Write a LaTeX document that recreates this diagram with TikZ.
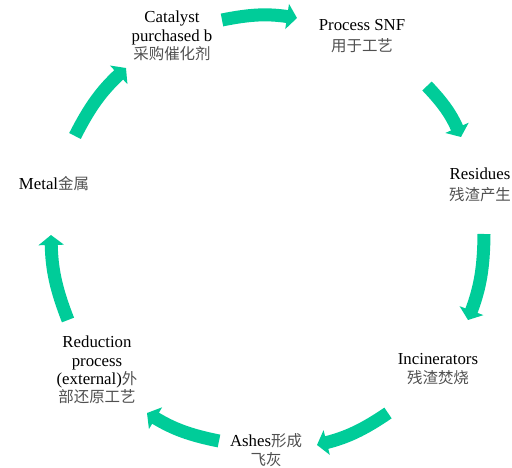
\documentclass[tikz,border=0pt]{standalone}
\usepackage{fontspec}
\setmainfont{Liberation Serif}
\newfontfamily\cjk[Scale=0.92]{Noto Sans CJK SC}
\usetikzlibrary{arrows.meta}

\definecolor{cyclegreen}{RGB}{0,204,153}
\definecolor{zhgray}{RGB}{80,80,80}
\newcommand{\zh}[1]{{\cjk\color{zhgray}#1}}

\begin{document}
\begin{tikzpicture}[x=1pt, y=-1pt,
    stage/.style={align=center, inner sep=0pt, font=\fontsize{16.8}{18.3}\selectfont},
    flow/.style={draw=cyclegreen, line width=13pt, -{Triangle[width=25pt,length=10pt]}}]
    \useasboundingbox (0,0) rectangle (512,468);

    % The seven stages round the cycle
    \node[stage] (cat) at (172,36) {Catalyst\\purchased b\\\zh{采购催化剂}};
    \node[stage] (snf) at (362,36) {Process SNF\\[3pt]\zh{用于工艺}};
    \node[stage] (res) at (480,185) {Residues\\[3pt]\zh{残渣产生}};
    \node[stage] (inc) at (438,369) {Incinerators\\\zh{残渣焚烧}};
    \node[stage] (ash) at (266,450) {Ashes\zh{形成}\\\zh{飞灰}};
    \node[stage] (red) at (97,370) {Reduction\\process\\(external)\zh{外}\\\zh{部还原工艺}};
    \node[stage] (met) at (54,184) {Metal\zh{金属}};

    % Ends of the arrows between the stages
    \coordinate (cat-out) at (222,20);
    \coordinate (snf-in) at (297,18);
    \coordinate (snf-out) at (427,86);
    \coordinate (res-in) at (461,137);
    \coordinate (res-out) at (484,234);
    \coordinate (inc-in) at (468,320);
    \coordinate (inc-out) at (388,413);
    \coordinate (ash-in) at (317,445);
    \coordinate (ash-out) at (219,441);
    \coordinate (red-in) at (147,413);
    \coordinate (red-out) at (68,320);
    \coordinate (met-in) at (51,235);
    \coordinate (met-out) at (75,136);
    \coordinate (cat-in) at (126,68);

    % Curved arrows, clockwise
    \draw[flow] (cat-out) to[bend left=10] (snf-in);
    \draw[flow] (snf-out) to[bend left=10] (res-in);
    \draw[flow] (res-out) to[bend left=10] (inc-in);
    \draw[flow] (inc-out) to[bend left=10] (ash-in);
    \draw[flow] (ash-out) to[bend left=10] (red-in);
    \draw[flow] (red-out) to[bend left=10] (met-in);
    \draw[flow] (met-out) to[bend left=10] (cat-in);
\end{tikzpicture}
\end{document}
